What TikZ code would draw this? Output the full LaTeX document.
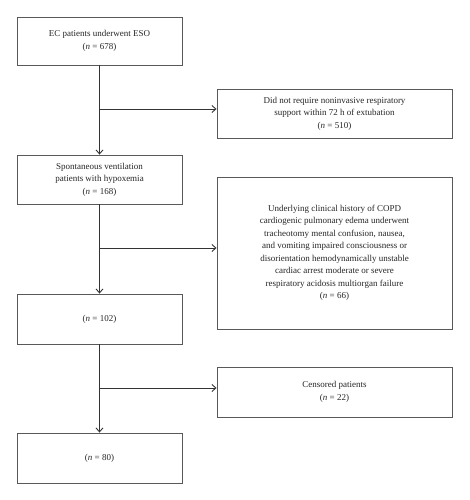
\documentclass[tikz,border=0pt]{standalone}
\usepackage{fontspec}
\setmainfont{Liberation Serif}
\usetikzlibrary{arrows.meta}
\begin{document}
\begin{tikzpicture}[x=1pt,y=-1pt,
  box/.style={draw=black!65,line width=0.9pt,fill=white,align=center,inner sep=0pt,
    font=\fontsize{9}{12.5}\selectfont,text=black!85},
  conn/.style={draw=black!80,line width=0.9pt},
  arr/.style={conn,-{Straight Barb[length=4pt,width=7pt,line width=0.9pt]}}]
\useasboundingbox (0,0) rectangle (469,500);
\node[box,minimum width=165pt,minimum height=48pt] (b1) at (99.5,41) {EC patients underwent ESO\\(\textit{n} = 678)};
\node[box,minimum width=165pt,minimum height=49pt] (b2) at (99.5,179.5) {Spontaneous ventilation\\patients with hypoxemia\\(\textit{n} = 168)};
\node[box,minimum width=165pt,minimum height=50pt] (b3) at (99.5,319) {(\textit{n} = 102)};
\node[box,minimum width=165pt,minimum height=50pt] (b4) at (99.5,458) {(\textit{n} = 80)};
\node[box,minimum width=235pt,minimum height=49pt] (r1) at (334.5,113.5) {Did not require noninvasive respiratory\\support within 72 h of extubation\\(\textit{n} = 510)};
\node[box,minimum width=235pt,minimum height=152pt] (r2) at (334.5,253) {Underlying clinical history of COPD\\cardiogenic pulmonary edema underwent\\tracheotomy mental confusion, nausea,\\and vomiting impaired consciousness or\\disorientation hemodynamically unstable\\cardiac arrest moderate or severe\\respiratory acidosis multiorgan failure\\(\textit{n} = 66)};
\node[box,minimum width=235pt,minimum height=50pt] (r3) at (334.5,392) {Censored patients\\(\textit{n} = 22)};
\coordinate (j1) at (b1.south |- 0,109);
\coordinate (j2) at (b2.south |- 0,248);
\coordinate (j3) at (b3.south |- 0,388);
\draw[arr] (b1.south) -- (b2.north);
\draw[arr] (b2.south) -- (b3.north);
\draw[arr] (b3.south) -- (b4.north);
\draw[arr] (j1) -- (j1 -| r1.west);
\draw[arr] (j2) -- (j2 -| r2.west);
\draw[arr] (j3) -- (j3 -| r3.west);
\end{tikzpicture}
\end{document}
